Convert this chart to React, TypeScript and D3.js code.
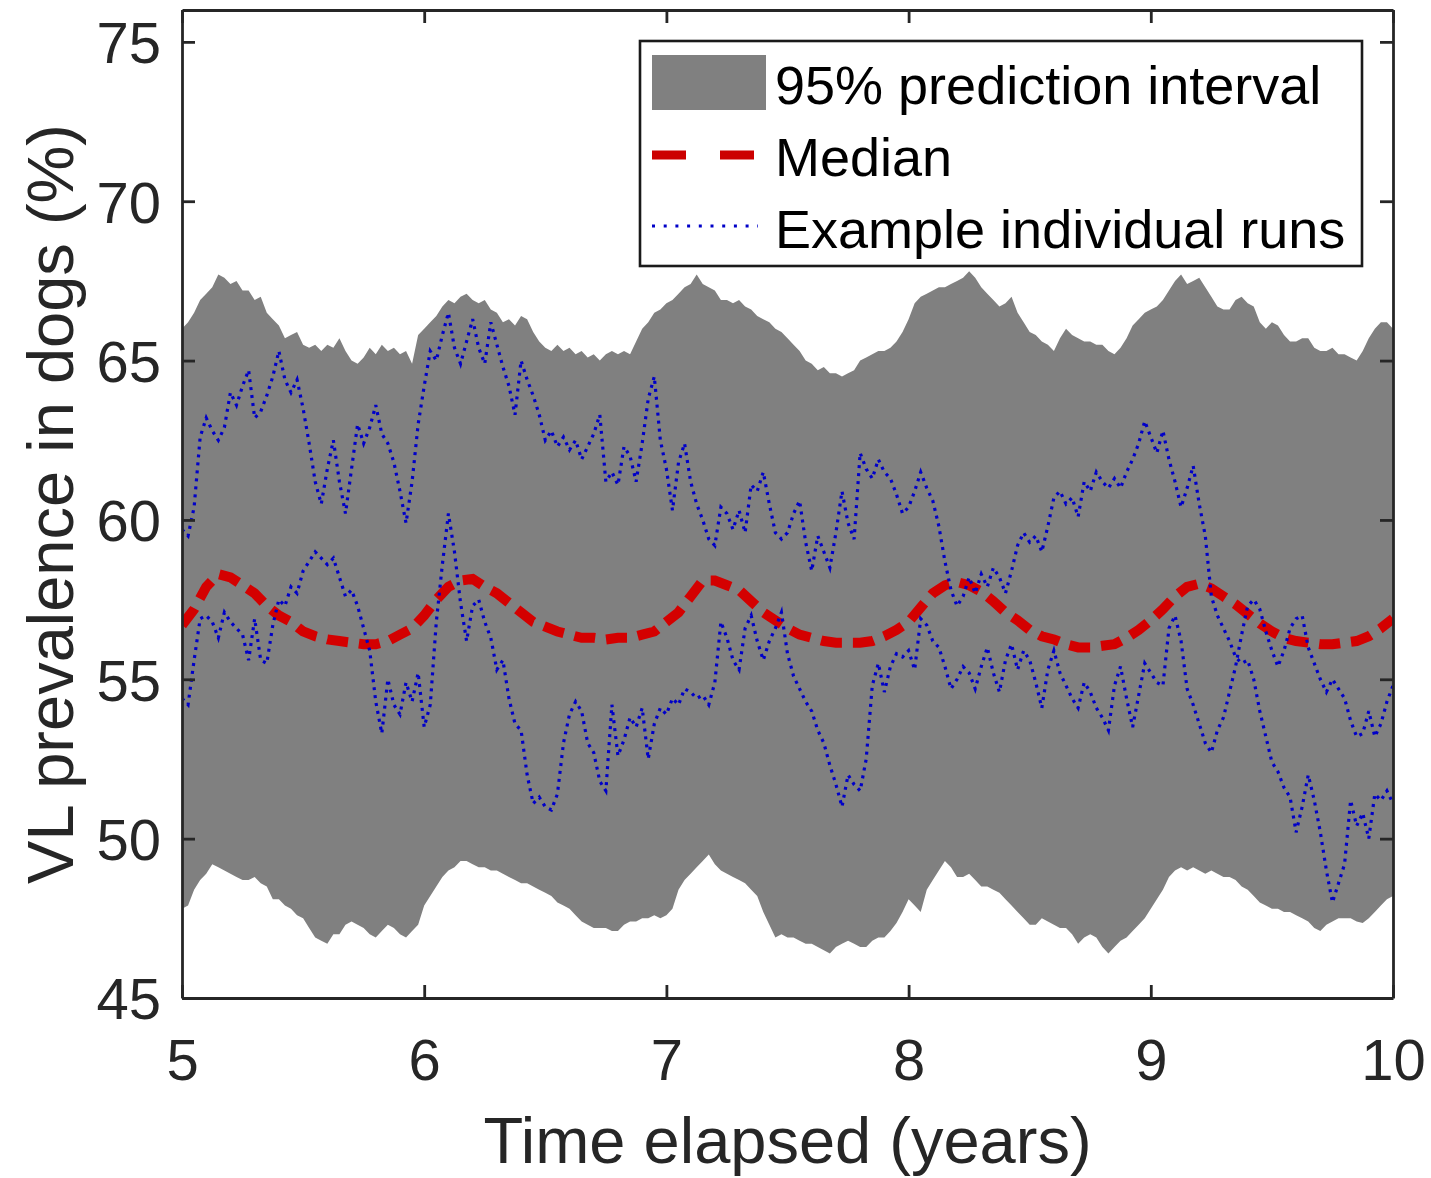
import React, { useRef, useEffect } from "react";
import * as d3 from "d3";

// time grid: band and runs every 0.025 yr, median every 0.05 yr
const START_YEAR = 5;
const RUN_STEP = 0.025;
const MEDIAN_STEP = 0.05;

const upper95 = [
  66.0, 66.2, 66.5, 66.9, 67.1, 67.3, 67.7, 67.6, 67.4, 67.5,
  67.2, 67.2, 66.9, 67.0, 66.5, 66.3, 66.1, 65.7, 65.8, 65.9,
  65.5, 65.4, 65.5, 65.3, 65.5, 65.4, 65.7, 65.3, 65.0, 64.9,
  65.1, 65.4, 65.2, 65.5, 65.3, 65.4, 65.2, 65.3, 64.9, 65.8,
  66.0, 66.2, 66.4, 66.7, 66.9, 66.8, 67.0, 67.1, 66.9, 66.8,
  66.9, 66.6, 66.5, 66.2, 66.3, 66.1, 66.4, 66.3, 65.9, 65.6,
  65.4, 65.3, 65.5, 65.3, 65.4, 65.2, 65.3, 65.1, 65.2, 65.0,
  65.2, 65.3, 65.2, 65.3, 65.2, 65.6, 66.0, 66.2, 66.5, 66.6,
  66.8, 66.9, 67.1, 67.3, 67.4, 67.7, 67.4, 67.3, 67.2, 66.9,
  66.9, 66.8, 66.9, 66.7, 66.6, 66.4, 66.3, 66.2, 66.0, 65.9,
  65.7, 65.5, 65.3, 65.0, 64.9, 64.7, 64.8, 64.6, 64.6, 64.5,
  64.6, 64.7, 65.0, 65.1, 65.2, 65.3, 65.3, 65.4, 65.6, 65.9,
  66.3, 66.8, 67.0, 67.1, 67.2, 67.3, 67.3, 67.4, 67.5, 67.6,
  67.8, 67.6, 67.3, 67.1, 66.9, 66.7, 66.8, 67.0, 66.5, 66.2,
  65.9, 65.8, 65.6, 65.5, 65.3, 65.7, 66.0, 65.8, 65.7, 65.6,
  65.6, 65.5, 65.5, 65.3, 65.2, 65.4, 65.7, 66.1, 66.3, 66.5,
  66.6, 66.7, 66.9, 67.2, 67.5, 67.7, 67.4, 67.5, 67.6, 67.3,
  67.0, 66.7, 66.6, 66.6, 66.9, 67.0, 66.8, 66.7, 66.2, 66.0,
  66.2, 66.1, 65.8, 65.6, 65.6, 65.7, 65.7, 65.4, 65.3, 65.3,
  65.4, 65.2, 65.2, 65.1, 65.0, 65.3, 65.7, 66.0, 66.2, 66.2,
  66.0,
];

const lower95 = [
  47.8, 47.9, 48.4, 48.7, 48.9, 49.2, 49.1, 49.0, 48.9, 48.8,
  48.7, 48.7, 48.8, 48.6, 48.5, 48.1, 48.1, 47.9, 47.8, 47.6,
  47.5, 47.2, 46.9, 46.8, 46.7, 47.0, 47.0, 47.3, 47.4, 47.3,
  47.2, 47.0, 46.9, 47.1, 47.3, 47.2, 47.0, 46.9, 47.1, 47.3,
  47.9, 48.2, 48.5, 48.8, 49.0, 49.1, 49.3, 49.3, 49.2, 49.1,
  49.1, 49.0, 49.0, 48.9, 48.8, 48.7, 48.6, 48.6, 48.5, 48.4,
  48.3, 48.2, 48.0, 47.9, 47.8, 47.6, 47.4, 47.3, 47.2, 47.2,
  47.2, 47.1, 47.1, 47.3, 47.4, 47.4, 47.5, 47.5, 47.6, 47.5,
  47.6, 47.8, 48.4, 48.7, 48.9, 49.1, 49.3, 49.5, 49.2, 49.0,
  48.9, 48.8, 48.7, 48.6, 48.4, 48.2, 47.7, 47.3, 46.9, 47.0,
  46.9, 46.9, 46.8, 46.7, 46.7, 46.6, 46.5, 46.4, 46.6, 46.7,
  46.8, 46.7, 46.6, 46.6, 46.8, 46.9, 46.9, 47.1, 47.35, 47.7,
  48.1, 47.9, 47.7, 48.4, 48.7, 49.0, 49.3, 49.1, 48.8, 48.8,
  48.9, 48.7, 48.5, 48.5, 48.4, 48.3, 48.1, 47.9, 47.7, 47.5,
  47.3, 47.3, 47.5, 47.4, 47.3, 47.2, 47.2, 47.0, 46.7, 46.9,
  47.0, 46.9, 46.6, 46.4, 46.6, 46.8, 46.9, 47.1, 47.3, 47.5,
  47.8, 48.1, 48.4, 48.8, 49.0, 49.1, 49.0, 49.1, 49.0, 48.9,
  49.0, 48.9, 48.8, 48.8, 48.7, 48.5, 48.4, 48.2, 48.0, 47.9,
  47.8, 47.8, 47.7, 47.7, 47.6, 47.5, 47.4, 47.2, 47.1, 47.3,
  47.4, 47.5, 47.5, 47.5, 47.4, 47.35, 47.5, 47.7, 47.9, 48.1,
  48.2,
];

const median = [
  56.7, 57.2, 57.9, 58.3, 58.2, 57.95, 57.7, 57.3, 57.0, 56.8,
  56.5, 56.35, 56.25, 56.2, 56.15, 56.1, 56.1, 56.2, 56.4, 56.6,
  57.0, 57.5, 57.9, 58.1, 58.15, 57.9, 57.7, 57.4, 57.1, 56.8,
  56.65, 56.5, 56.4, 56.3, 56.3, 56.25, 56.3, 56.3, 56.4, 56.5,
  56.8, 57.1, 57.6, 58.1, 58.1, 57.95, 57.8, 57.45, 57.1, 56.85,
  56.6, 56.4, 56.3, 56.2, 56.15, 56.15, 56.15, 56.2, 56.35, 56.55,
  56.8, 57.25, 57.7, 57.95, 58.05, 57.95, 57.75, 57.45, 57.1, 56.85,
  56.55, 56.35, 56.25, 56.1, 56.0, 56.0, 56.05, 56.1, 56.3, 56.55,
  56.85, 57.2, 57.6, 57.9, 58.0, 57.85, 57.6, 57.35, 57.05, 56.75,
  56.5, 56.3, 56.2, 56.15, 56.1, 56.1, 56.15, 56.2, 56.35, 56.6,
  56.9,
];

const runA = [
  59.7, 59.5, 60.4, 62.6, 63.2, 62.8, 62.5, 62.9, 64.0, 63.6,
  64.2, 64.7, 63.2, 63.4, 63.9, 64.5, 65.3, 64.4, 64.0, 64.4,
  63.5, 62.4, 61.2, 60.5, 61.6, 62.5, 61.2, 60.2, 61.6, 63.0,
  62.4, 62.9, 63.6, 62.7, 62.4, 61.8, 60.9, 59.9, 61.2, 63.0,
  64.2, 65.3, 65.0, 65.8, 66.5, 65.4, 64.9, 65.6, 66.3, 65.4,
  64.9, 66.2, 65.5, 64.8, 64.2, 63.3, 65.0, 64.4, 63.9, 63.3,
  62.5, 62.8, 62.3, 62.6, 62.2, 62.5, 61.9, 62.3, 62.7, 63.3,
  61.2, 61.5, 61.1, 62.3, 62.0, 61.2, 62.4, 63.8, 64.5, 62.5,
  61.6, 60.3, 61.8, 62.4, 61.2, 60.5, 60.0, 59.4, 59.2, 60.4,
  60.2, 59.7, 60.3, 59.6, 61.1, 60.9, 61.5, 60.5, 59.6, 59.4,
  59.6, 60.2, 60.6, 59.3, 58.4, 59.5, 59.0, 58.5, 59.6, 60.9,
  59.9, 59.4, 62.1, 61.6, 61.3, 61.9, 61.5, 61.3, 60.8, 60.2,
  60.4, 60.9, 61.5, 61.0, 60.6, 59.8, 58.7, 57.8, 57.3, 57.6,
  58.2, 57.7, 58.3, 57.9, 58.5, 58.2, 57.7, 58.4, 59.2, 59.6,
  59.3, 59.5, 59.0, 59.8, 60.7, 60.9, 60.5, 60.7, 60.1, 61.2,
  60.9, 61.5, 61.2, 61.0, 61.3, 61.0, 61.5, 61.9, 62.4, 63.1,
  62.6, 62.1, 62.8, 61.9, 61.2, 60.4, 61.0, 61.7, 60.5, 59.5,
  57.6, 57.0, 56.6, 56.2, 55.7, 55.5, 55.6, 55.0, 54.0, 53.2,
  52.4, 52.1, 51.6, 51.3, 50.2, 51.0, 52.0, 51.2, 50.2, 49.0,
  48.0, 48.6, 49.2, 51.2, 50.4, 50.8, 50.0, 51.4, 51.2, 51.5,
  51.1,
];

const runB = [
  54.4, 54.2, 55.6, 56.9, 57.0, 56.8, 56.3, 57.1, 56.8, 56.6,
  56.4, 55.6, 56.9, 55.6, 55.5, 56.7, 57.5, 57.3, 57.9, 57.7,
  58.4, 58.7, 59.0, 58.8, 58.6, 58.8, 58.2, 57.6, 57.8, 57.3,
  56.6, 55.9, 54.3, 53.3, 55.0, 54.2, 53.9, 54.9, 54.3, 55.2,
  53.5, 54.2, 56.8, 58.6, 60.2, 59.0, 57.4, 56.2, 57.3, 57.5,
  56.8, 56.3, 55.3, 55.6, 54.4, 53.6, 53.4, 52.0, 51.1, 51.3,
  51.0, 50.9, 51.4, 53.0, 53.9, 54.3, 54.0, 53.0, 52.7, 51.8,
  51.5, 54.2, 52.6, 53.1, 53.8, 53.5, 54.1, 52.5, 53.6, 54.1,
  53.9, 54.4, 54.2, 54.7, 54.6, 54.4, 54.5, 54.2, 54.9, 56.8,
  56.3, 55.6, 55.3, 56.6, 57.0, 56.2, 55.6, 56.2, 56.6, 57.1,
  55.8, 55.1, 54.7, 54.3, 54.0, 53.4, 53.0, 52.3, 51.7, 51.0,
  52.0, 51.7, 51.5, 52.5, 54.8, 55.5, 54.6, 55.4, 55.8, 55.7,
  55.9, 55.3, 56.9, 56.7, 56.2, 56.0, 55.4, 54.7, 55.0, 55.4,
  55.2, 54.7, 55.4, 56.0, 55.2, 54.6, 55.6, 56.1, 55.3, 55.9,
  55.6, 54.9, 54.1, 55.3, 55.9, 55.2, 54.8, 54.4, 54.1, 54.9,
  54.6, 54.1, 53.8, 53.4, 54.8, 55.4, 54.4, 53.5, 54.5, 55.5,
  55.2, 54.9, 54.8, 56.6, 57.0, 56.2, 54.7, 54.2, 53.6, 53.0,
  52.7, 53.4, 53.8, 54.6, 55.4, 56.4, 57.3, 57.5, 57.2, 56.5,
  55.9, 55.4, 55.9, 56.6, 56.9, 57.0, 56.0, 55.5, 55.0, 54.6,
  55.0, 54.7, 54.4, 53.7, 53.2, 53.3, 54.0, 53.2, 53.6, 54.3,
  54.8,
];

const xTicks = [5, 6, 7, 8, 9, 10];
const yTicks = [45, 50, 55, 60, 65, 70, 75];
const legendLabels = [
  "95% prediction interval",
  "Median",
  "Example individual runs",
];

const FONT = '"Liberation Sans", Arial, Helvetica, sans-serif';
const AXIS_COLOR = "#262626";

const App = () => {
  const svgRef = useRef<SVGSVGElement>(null);

  useEffect(() => {
    const width = 1431;
    const height = 1178;
    const plot = { left: 182, right: 1393, top: 10, bottom: 998 };

    const svg = d3.select(svgRef.current);
    svg.selectAll("*").remove();
    svg.attr("width", width).attr("height", height);

    const x = d3.scaleLinear().domain([5, 10]).range([plot.left, plot.right]);
    const y = d3.scaleLinear().domain([45, 76]).range([plot.bottom, plot.top]);

    // clip to the axes box
    svg
      .append("defs")
      .append("clipPath")
      .attr("id", "plot-clip")
      .append("rect")
      .attr("x", plot.left)
      .attr("y", plot.top)
      .attr("width", plot.right - plot.left)
      .attr("height", plot.bottom - plot.top);

    const g = svg.append("g").attr("clip-path", "url(#plot-clip)");

    const bandData = upper95.map((u, i) => ({
      t: START_YEAR + i * RUN_STEP,
      hi: u,
      lo: lower95[i],
    }));

    const area = d3
      .area<{ t: number; hi: number; lo: number }>()
      .x((d) => x(d.t))
      .y0((d) => y(d.lo))
      .y1((d) => y(d.hi));

    g.append("path").datum(bandData).attr("d", area).attr("fill", "#808080");

    const line = d3
      .line<number>()
      .x((d, i) => x(START_YEAR + i * MEDIAN_STEP))
      .y((d) => y(d));

    g.append("path")
      .datum(median)
      .attr("d", line)
      .attr("fill", "none")
      .attr("stroke", "#d40000")
      .attr("stroke-width", 10)
      .attr("stroke-dasharray", "21 11");

    const runLine = d3
      .line<number>()
      .x((d, i) => x(START_YEAR + i * RUN_STEP))
      .y((d) => y(d));

    [runA, runB].forEach((run) => {
      g.append("path")
        .datum(run)
        .attr("d", runLine)
        .attr("fill", "none")
        .attr("stroke", "#0000c8")
        .attr("stroke-width", 3.2)
        .attr("stroke-dasharray", "3 5");
    });

    // axes, ticks pointing inward on all four sides
    const styleAxis = (sel: any) => {
      sel.select(".domain").attr("stroke", AXIS_COLOR).attr("stroke-width", 2.8);
      sel.selectAll(".tick line").attr("stroke", AXIS_COLOR).attr("stroke-width", 2.8);
      sel
        .selectAll(".tick text")
        .attr("fill", AXIS_COLOR)
        .style("font-family", FONT)
        .style("font-size", "58px");
    };

    svg
      .append("g")
      .attr("transform", `translate(0,${plot.bottom})`)
      .call(
        d3
          .axisBottom(x)
          .tickValues(xTicks)
          .tickSize(-13)
          .tickSizeOuter(0)
          .tickPadding(41)
          .tickFormat(d3.format("d"))
      )
      .call(styleAxis);

    svg
      .append("g")
      .attr("transform", `translate(0,${plot.top})`)
      .call(d3.axisTop(x).tickValues(xTicks).tickSize(-13).tickSizeOuter(0).tickFormat(() => ""))
      .call(styleAxis);

    const left = svg
      .append("g")
      .attr("transform", `translate(${plot.left},0)`)
      .call(
        d3
          .axisLeft(y)
          .tickValues(yTicks)
          .tickSize(-13)
          .tickSizeOuter(0)
          .tickPadding(21)
          .tickFormat(d3.format("d"))
      )
      .call(styleAxis);
    left.selectAll(".tick text").attr("dy", "0.36em");

    svg
      .append("g")
      .attr("transform", `translate(${plot.right},0)`)
      .call(d3.axisRight(y).tickValues(yTicks).tickSize(-13).tickSizeOuter(0).tickFormat(() => ""))
      .call(styleAxis);

    // axis labels
    svg
      .append("text")
      .attr("x", (plot.left + plot.right) / 2)
      .attr("y", 1163)
      .attr("text-anchor", "middle")
      .attr("fill", AXIS_COLOR)
      .style("font-family", FONT)
      .style("font-size", "65px")
      .text("Time elapsed (years)");

    svg
      .append("text")
      .attr("transform", "translate(73,504) rotate(-90)")
      .attr("text-anchor", "middle")
      .attr("fill", AXIS_COLOR)
      .style("font-family", FONT)
      .style("font-size", "65px")
      .text("VL prevalence in dogs (%)");

    // legend
    const legend = svg.append("g");
    legend
      .append("rect")
      .attr("x", 640)
      .attr("y", 41)
      .attr("width", 722)
      .attr("height", 225)
      .attr("fill", "white")
      .attr("stroke", "#1a1a1a")
      .attr("stroke-width", 2.6);

    legend
      .append("rect")
      .attr("x", 652)
      .attr("y", 55)
      .attr("width", 114)
      .attr("height", 55)
      .attr("fill", "#808080");

    legend
      .append("line")
      .attr("x1", 652)
      .attr("x2", 754)
      .attr("y1", 155)
      .attr("y2", 155)
      .attr("stroke", "#cc0000")
      .attr("stroke-width", 9)
      .attr("stroke-dasharray", "34 34");

    legend
      .append("line")
      .attr("x1", 652)
      .attr("x2", 758)
      .attr("y1", 226)
      .attr("y2", 226)
      .attr("stroke", "#0000c8")
      .attr("stroke-width", 3)
      .attr("stroke-dasharray", "3 8.7");

    legend
      .selectAll(".legend-label")
      .data(legendLabels)
      .enter()
      .append("text")
      .attr("class", "legend-label")
      .attr("x", 775)
      .attr("y", (d, i) => 104 + i * 72)
      .attr("fill", "#000")
      .style("font-family", FONT)
      .style("font-size", "54px")
      .text((d) => d);
  }, []);

  return (
    <div style={{ position: "absolute", left: 0, top: 0 }}>
      <svg ref={svgRef} style={{ display: "block" }} />
    </div>
  );
};

export default App;
